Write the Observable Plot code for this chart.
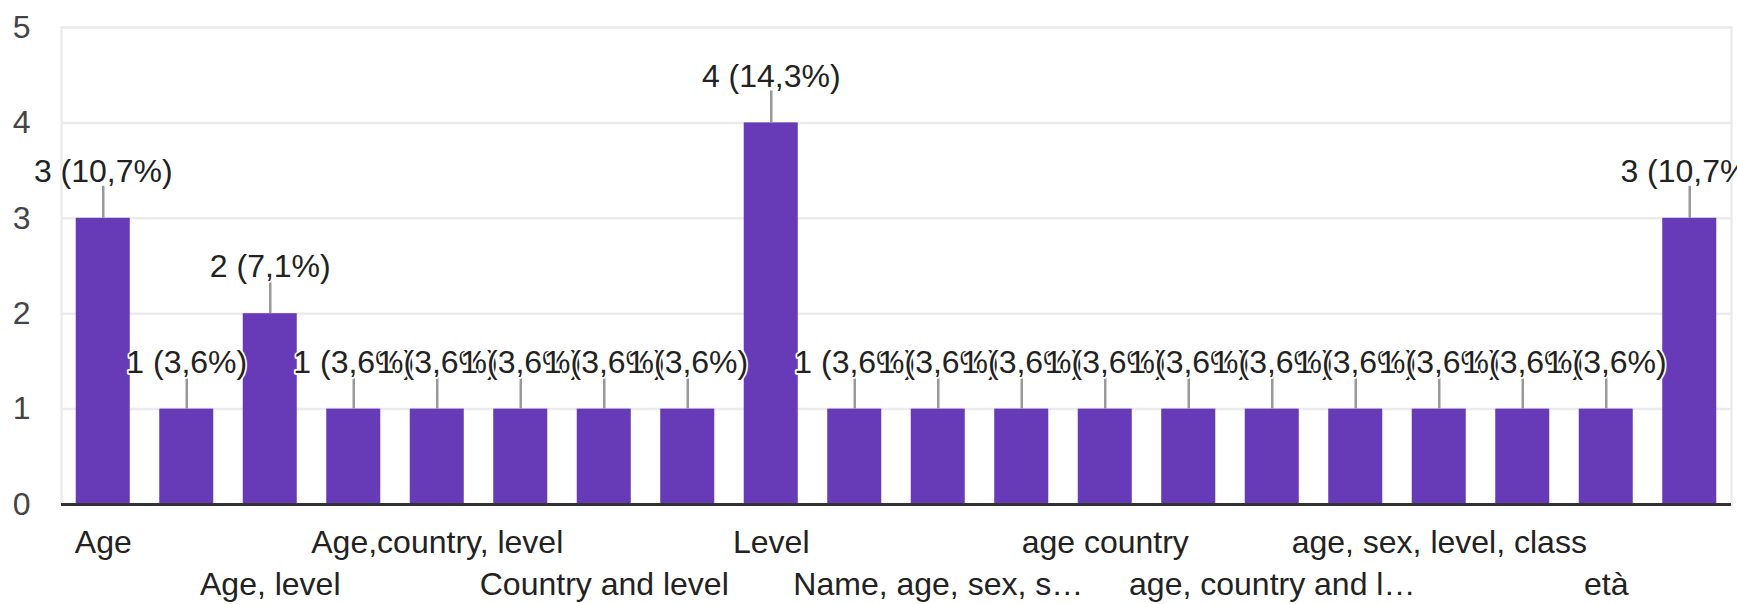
<!DOCTYPE html>
<html>
<head>
<meta charset="utf-8">
<script src="https://cdn.jsdelivr.net/npm/d3@7"></script>
<script src="https://cdn.jsdelivr.net/npm/@observablehq/plot@0.6"></script>
<style>
html, body { margin: 0; padding: 0; background: #fff; }
</style>
</head>
<body>
<div id="chart"></div>
<script>
// Categories (odd ones are not labelled on the axis in the reference)
const categories = [
  "Age", "Age, country", "Age, level", "Age, sex", "Age,country, level",
  "Age,sex", "Country and level", "Country, level", "Level", "Level, age",
  "Name, age, sex, s…", "Nationality", "age country", "age level", "age, country and l…",
  "age, level", "age, sex, level, class", "country", "età", "level"
];
const counts = [3, 1, 2, 1, 1, 1, 1, 1, 4, 1, 1, 1, 1, 1, 1, 1, 1, 1, 1, 3];
const yTicks = [0, 1, 2, 3, 4, 5];
const labelRow1 = ["Age", "Age,country, level", "Level", "age country", "age, sex, level, class"];
const labelRow2 = ["Age, level", "Country and level", "Name, age, sex, s…", "age, country and l…", "età"];

const total = d3.sum(counts);
const data = categories.map((c, i) => ({
  category: c,
  count: counts[i],
  label: `${counts[i]} (${(counts[i] / total * 100).toFixed(1).replace(".", ",")}%)`
}));

const W = 1737, H = 604, mTop = 27, mBottom = 100, mLeft = 61, mRight = 6;
const pxPerUnit = (H - mTop - mBottom) / 5;
const stem = 32 / pxPerUnit;
const FS = 32;

const chart = Plot.plot({
  width: W,
  height: H,
  marginTop: mTop,
  marginBottom: mBottom,
  marginLeft: mLeft,
  marginRight: mRight,
  style: { fontFamily: "'Liberation Sans', Arial, sans-serif", fontSize: FS + "px", background: "#fff", overflow: "visible" },
  x: { domain: categories, paddingInner: 0.353, paddingOuter: 0.1765, round: false },
  y: { domain: [0, 5] },
  marks: [
    Plot.gridY(yTicks, { stroke: "#ebebeb", strokeOpacity: 1, strokeWidth: 2.5 }),
    Plot.frame({ stroke: "#ebebeb", strokeWidth: 2.5 }),
    Plot.axisY(yTicks, { tickSize: 0, tickPadding: 31, fontSize: FS, fill: "#444", label: null, tickFormat: d3.format("d") }),
    Plot.axisX({ ticks: labelRow1, tickSize: 0, tickPadding: 26, fontSize: FS, fill: "#222", label: null }),
    Plot.axisX({ ticks: labelRow2, tickSize: 0, tickPadding: 68, fontSize: FS, fill: "#222", label: null }),
    Plot.barY(data, { x: "category", y: "count", fill: "#673ab7" }),
    Plot.ruleY([0], { stroke: "#333", strokeWidth: 3 }),
    Plot.ruleX(data, { x: "category", y1: "count", y2: d => d.count + stem, stroke: "#999", strokeWidth: 2.5 }),
    Plot.text(data, {
      x: "category", y: "count", text: "label", dy: -46.5,
      fill: "#222", stroke: "white", strokeWidth: 3.5, fontSize: FS, lineAnchor: "middle"
    })
  ]
});
document.getElementById("chart").appendChild(chart);
</script>
</body>
</html>
